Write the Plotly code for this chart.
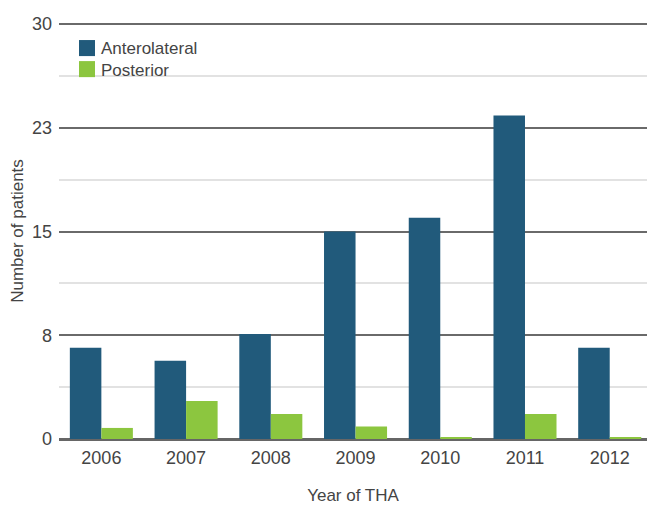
import plotly.graph_objects as go

years = ["2006", "2007", "2008", "2009", "2010", "2011", "2012"]
anterolateral = [6.6, 5.65, 7.6, 15.0, 16.0, 23.4, 6.6]
posterior = [0.8, 2.75, 1.8, 0.9, 0.1, 1.8, 0.1]
series_names = ["Anterolateral", "Posterior"]
series_colors = ["#215a7b", "#8cc63f"]
ytick_vals = [0, 7.5, 15, 22.5, 30]
ytick_text = ["0", "8", "15", "23", "30"]
ytick_minor = [3.75, 11.25, 18.75, 26.25]

font_family = "Liberation Sans, Arial, sans-serif"
txt = "#444"

fig = go.Figure()
for name, vals, col in zip(series_names, [anterolateral, posterior], series_colors):
    fig.add_trace(go.Bar(name=name, x=years, y=vals, showlegend=False,
                         marker=dict(color=col, line=dict(width=0))))

# manual legend (pixel -> paper conversion for plot area 59..647 x 24..439)
def px(x):
    return (x - 59) / 588.0

def py(y):
    return (439 - y) / 415.0

leg_tops = [41, 62]
leg_centers = [49, 71]
for name, col, top, cen in zip(series_names, series_colors, leg_tops, leg_centers):
    fig.add_shape(type="rect", xref="paper", yref="paper",
                  x0=px(79), x1=px(95), y0=py(top + 16), y1=py(top),
                  fillcolor=col, line=dict(width=0))
    fig.add_annotation(text=name, xref="paper", yref="paper", x=px(99), y=py(cen),
                       xanchor="left", yanchor="middle", showarrow=False,
                       font=dict(size=17, color=txt))

fig.update_layout(
    width=647, height=506,
    margin=dict(l=59, r=0, t=23, b=67),
    plot_bgcolor="white", paper_bgcolor="white",
    barmode="group", bargap=0.256, bargroupgap=0,
    font=dict(family=font_family, size=17, color=txt),
    showlegend=False,
    xaxis=dict(type="category", range=[-0.5, 6.44], showgrid=False,
               ticks="", showline=False, tickfont=dict(size=18, color=txt),
               ticklabelstandoff=6,
               title=dict(text="Year of THA", font=dict(size=17, color=txt), standoff=22)),
    yaxis=dict(range=[0, 30.08], tickvals=ytick_vals, ticktext=ytick_text,
               showgrid=True, gridcolor="#6a6a6a", gridwidth=1.5,
               zeroline=True, zerolinecolor="#666", zerolinewidth=3,
               ticks="", showline=False, tickfont=dict(size=18, color=txt),
               ticklabelstandoff=6,
               minor=dict(tickvals=ytick_minor, showgrid=True, gridcolor="#e2e2e2", gridwidth=1.5),
               title=dict(text="Number of patients", font=dict(size=17, color=txt), standoff=4)),
)

fig.write_html("out.html")
